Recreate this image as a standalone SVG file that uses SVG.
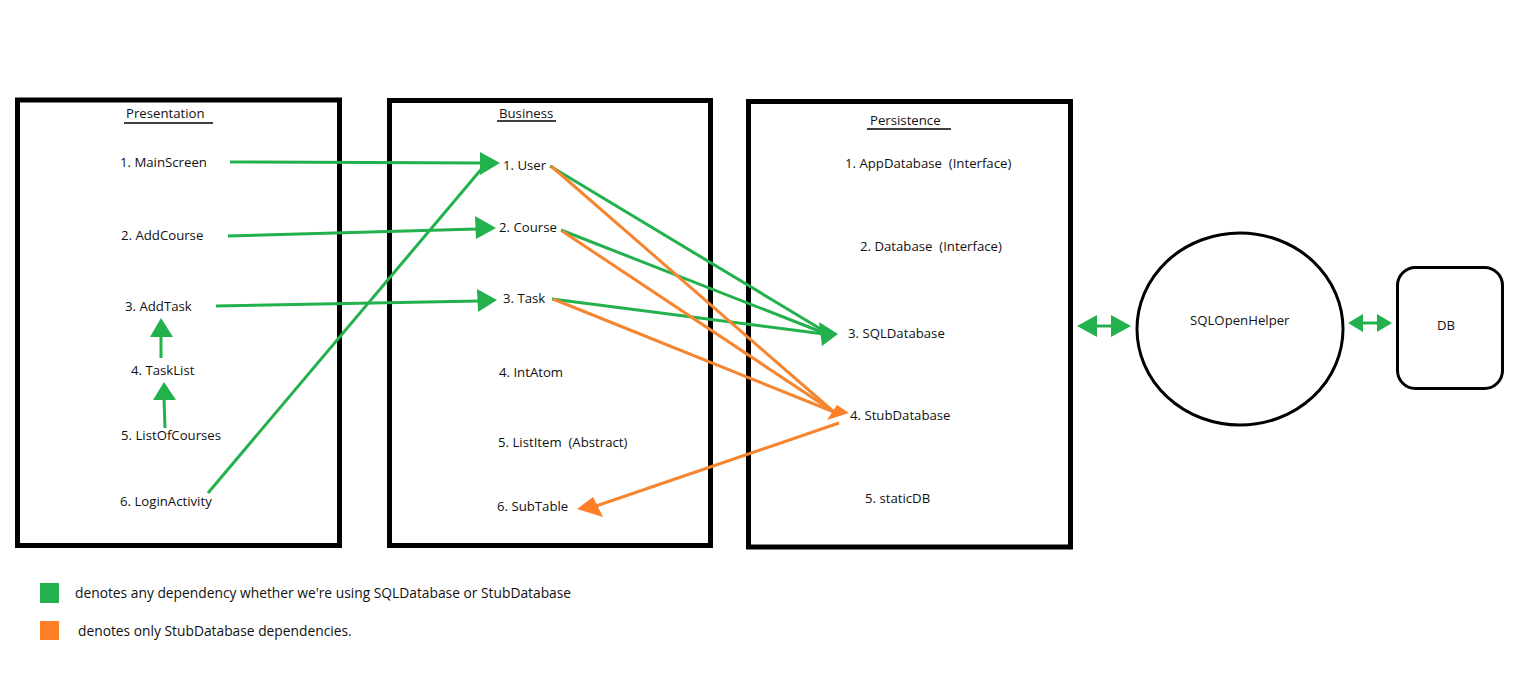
<svg xmlns="http://www.w3.org/2000/svg" width="1513" height="683" viewBox="0 0 1513 683">
<style>
text{font-family:"Open Sans","Noto Sans","DejaVu Sans",sans-serif;font-size:13.2px;fill:#111}
.lg{font-size:13.8px}
.layer{fill:none;stroke:#000;stroke-width:5}
.ul{stroke:#000;stroke-width:1.3}
.g{stroke:#22b14c;stroke-width:3;fill:none}
.o{stroke:#f5852f;stroke-width:3;fill:none}
.gh{fill:#22b14c}
.oh{fill:#ff7f27}
</style>
<rect width="1513" height="683" fill="#fff"/>
<g id="presentation">
<rect class="layer" x="17.5" y="100" width="322" height="445.5"/>
<text x="126" y="118">Presentation</text>
<line class="ul" x1="124" y1="123" x2="213" y2="123"/>
<text x="120" y="167">1. MainScreen</text>
<text x="121" y="240">2. AddCourse</text>
<text x="125" y="311">3. AddTask</text>
<text x="131" y="375">4. TaskList</text>
<text x="121" y="440">5. ListOfCourses</text>
<text x="120" y="506">6. LoginActivity</text>
</g>
<g id="business">
<rect class="layer" x="389.5" y="100.5" width="321" height="445"/>
<text x="499" y="118">Business</text>
<line class="ul" x1="497" y1="121" x2="556" y2="121"/>
<text x="503" y="170">1. User</text>
<text x="499" y="232">2. Course</text>
<text x="503" y="303">3. Task</text>
<text x="499" y="377">4. IntAtom</text>
<text x="498" y="447" xml:space="preserve">5. ListItem  (Abstract)</text>
<text x="497" y="511">6. SubTable</text>
</g>
<g id="persistence">
<rect class="layer" x="748.5" y="101.5" width="322" height="445.5"/>
<text x="870" y="125">Persistence</text>
<line class="ul" x1="867" y1="129" x2="951" y2="129"/>
<text x="845" y="168" xml:space="preserve">1. AppDatabase  (Interface)</text>
<text x="860" y="251" xml:space="preserve">2. Database  (Interface)</text>
<text x="848" y="338">3. SQLDatabase</text>
<text x="850" y="420">4. StubDatabase</text>
<text x="865" y="503">5. staticDB</text>
</g>
<g id="sqlopenhelper">
<ellipse cx="1240" cy="329" rx="103" ry="96" fill="none" stroke="#000" stroke-width="3"/>
<text x="1190" y="325">SQLOpenHelper</text>
</g>
<g id="db">
<rect x="1397.5" y="267.5" width="105" height="121" rx="18" fill="none" stroke="#000" stroke-width="3"/>
<text x="1437" y="330">DB</text>
</g>
<g id="connectors">
<line class="g" x1="230" y1="162" x2="482" y2="163"/>
<polygon class="gh" points="480,152 500,163 480,175"/>
<line class="g" x1="228" y1="236" x2="477" y2="229"/>
<polygon class="gh" points="475,216 496,228 476,239"/>
<line class="g" x1="216" y1="306" x2="479" y2="301"/>
<polygon class="gh" points="477,289 497,300 478,312"/>
<line class="g" x1="208" y1="493" x2="484" y2="166"/>
<line class="g" x1="161" y1="358" x2="161" y2="335"/>
<polygon class="gh" points="150,337 161,318 173,337"/>
<line class="g" x1="165" y1="428" x2="164" y2="398"/>
<polygon class="gh" points="153,400 164,382 176,400"/>
<line class="g" x1="550" y1="166" x2="824" y2="331"/>
<line class="g" x1="561" y1="230" x2="824" y2="333"/>
<line class="g" x1="552" y1="299" x2="824" y2="334"/>
<polygon class="gh" points="819,322 838,334 822,346"/>
<line class="o" x1="551" y1="166" x2="834" y2="412"/>
<line class="o" x1="562" y1="231" x2="834" y2="412"/>
<line class="o" x1="553" y1="299" x2="834" y2="412"/>
<polygon class="oh" points="837,405 849,413 827,420"/>
<line class="o" x1="839" y1="423" x2="596" y2="506"/>
<polygon class="oh" points="593,497 577,509 603,517"/>
<line class="g" x1="1092" y1="326" x2="1116" y2="326"/>
<polygon class="gh" points="1077,326 1097,315 1097,337"/>
<polygon class="gh" points="1131,326 1111,315 1111,337"/>
<line class="g" x1="1360" y1="323" x2="1380" y2="323"/>
<polygon class="gh" points="1348,323 1363,314 1363,332"/>
<polygon class="gh" points="1392,323 1377,314 1377,332"/>
</g>
<g id="legend">
<rect x="40" y="583" width="19" height="20" fill="#22b14c"/>
<text class="lg" x="75" y="598">denotes any dependency whether we're using SQLDatabase or StubDatabase</text>
<rect x="40" y="621" width="19" height="19" fill="#ff7f27"/>
<text class="lg" x="78" y="636">denotes only StubDatabase dependencies.</text>
</g>
</svg>
